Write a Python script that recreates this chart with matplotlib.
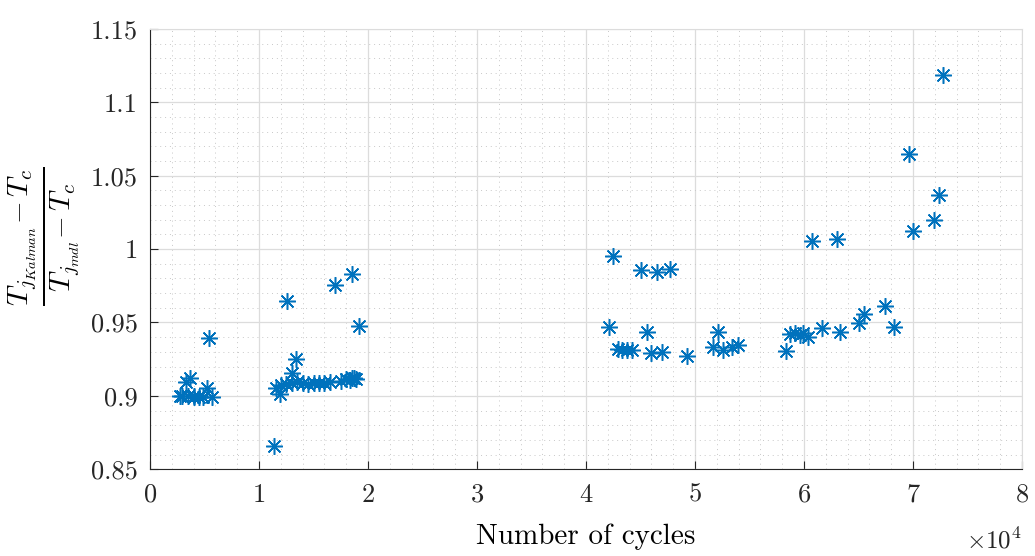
import numpy as np
import matplotlib
matplotlib.use('Agg')
import matplotlib.pyplot as plt
from matplotlib.ticker import MultipleLocator, FuncFormatter

plt.rcParams['font.family'] = 'serif'
plt.rcParams['font.serif'] = ['cmr10', 'DejaVu Serif']
plt.rcParams['mathtext.fontset'] = 'cm'
plt.rcParams['axes.unicode_minus'] = False

# number of cycles and temperature ratio
cycles = [2750, 2900, 3300, 3500, 3700, 4070, 4000, 4500, 4900, 5200, 5440, 5700,
          11380, 11560, 11930, 12000, 12540, 13000, 13370, 12500, 13000, 13500, 14000,
          14500, 15000, 15500, 16000, 16500, 16970, 17500, 18000, 18300, 18500,
          18700, 18900, 18500, 19170,
          42140, 42500, 42960, 43300, 43800, 44200, 45050, 45570, 45960, 46480,
          46940, 47700, 49230, 51680, 52140, 52600, 53360, 53970,
          58320, 58700, 59200, 59600, 59900, 60400, 60760, 61620, 63000, 63300,
          65070, 65530, 67430, 68260, 69630, 70030, 71950, 72390, 72780]
ratio = [0.900, 0.900, 0.9095, 0.900, 0.912, 0.899, 0.900, 0.899, 0.899, 0.9057, 0.9395, 0.899,
         0.866, 0.9057, 0.901, 0.9075, 0.9646, 0.9157, 0.9248, 0.908, 0.909, 0.9095, 0.9085,
         0.908, 0.9085, 0.909, 0.909, 0.9095, 0.9757, 0.910, 0.9115, 0.911, 0.983,
         0.912, 0.9115, 0.912, 0.9475,
         0.947, 0.9954, 0.9316, 0.931, 0.9312, 0.931, 0.9857, 0.9432, 0.9293, 0.9845,
         0.930, 0.9864, 0.927, 0.9334, 0.9436, 0.9311, 0.933, 0.9345,
         0.9305, 0.942, 0.943, 0.9414, 0.9425, 0.9398, 1.0055, 0.946, 1.0068, 0.9432,
         0.9494, 0.9557, 0.9614, 0.947, 1.0648, 1.012, 1.0198, 1.0368, 1.1186]

fig = plt.figure(figsize=(10.35, 5.56), dpi=100)
ax = fig.add_axes([0.145, 0.156, 0.8425, 0.792])

ax.plot(cycles, ratio, linestyle='none', marker=(8, 2, 0), markersize=12,
        markeredgewidth=1.1, color='#0072BD')

ax.set_xlim(0, 80000)
ax.set_ylim(0.85, 1.15)
ax.xaxis.set_major_locator(MultipleLocator(10000))
ax.xaxis.set_minor_locator(MultipleLocator(2000))
ax.yaxis.set_major_locator(MultipleLocator(0.05))
ax.yaxis.set_minor_locator(MultipleLocator(0.01))
ax.xaxis.set_major_formatter(FuncFormatter(lambda v, p: '%g' % (v / 1e4)))
ax.yaxis.set_major_formatter(FuncFormatter(lambda v, p: '%g' % round(v, 2)))

ax.grid(which='major', color='#dcdcdc', linewidth=0.9)
ax.grid(which='minor', color='#c8c8c8', linestyle=(0, (1, 4)), linewidth=0.7)
ax.set_axisbelow(True)
ax.tick_params(which='both', direction='in', labelsize=19, colors='#262626',
               top=False, right=False)
ax.tick_params(which='major', length=6)
ax.tick_params(axis='x', which='major', pad=10)
ax.tick_params(axis='y', which='major', pad=9)
ax.tick_params(which='minor', length=0)
for s in ['top', 'right']:
    ax.spines[s].set_color('#dcdcdc')
for s in ['left', 'bottom']:
    ax.spines[s].set_color('#262626')

ax.set_xlabel('Number of cycles', fontsize=21, labelpad=12)
ax.set_ylabel(r'$\frac{T_{j_{Kalman}}\!-T_c}{T_{j_{mdl}}\!-T_c}$', fontsize=30)
ax.yaxis.set_label_coords(-0.078, 0.53)
ax.text(1.0, -0.163, r'$\times10^4$', transform=ax.transAxes, fontsize=18,
        ha='right', va='center', color='#262626')

fig.savefig('out.png', dpi=100)
